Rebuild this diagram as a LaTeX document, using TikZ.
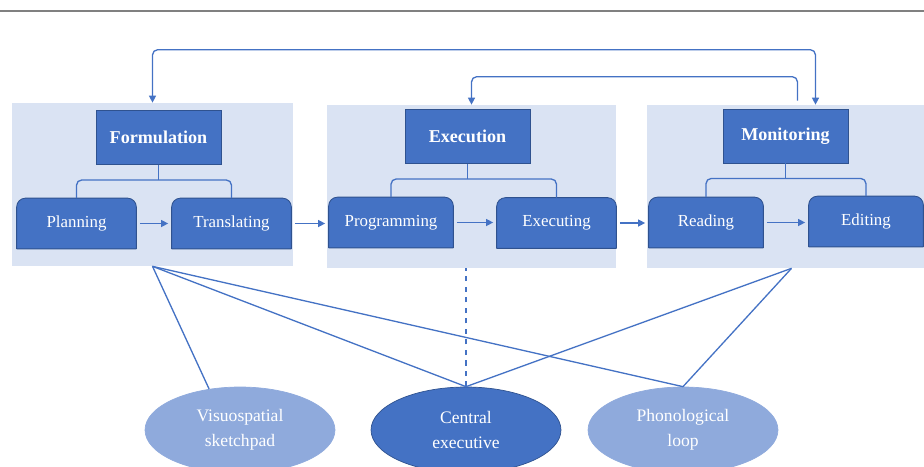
\documentclass[tikz,border=0pt]{standalone}
\usepackage{fontspec}
\setmainfont{Liberation Serif}
\usetikzlibrary{calc,shapes,positioning,arrows.meta}
\definecolor{boxblue}{RGB}{68,114,196}
\definecolor{boxedge}{RGB}{47,82,143}
\definecolor{panelbg}{RGB}{218,227,243}
\definecolor{ovalblue}{RGB}{143,170,220}
\definecolor{rulegray}{RGB}{128,128,128}
\pgfdeclarelayer{panels}
\pgfdeclarelayer{boxes}
\pgfsetlayers{panels,boxes,main}
\tikzset{
    panel/.style={rectangle, fill=panelbg, inner sep=0pt, minimum height=3.26cm},
    head/.style={rectangle, fill=boxblue, draw=boxedge, line width=0.5pt, text=white,
        minimum width=2.5cm, minimum height=1.08cm, font=\bfseries\fontsize{10.3}{12}\selectfont},
    sub/.style={rectangle, inner sep=0pt, minimum width=2.38cm, minimum height=1cm,
        text=white, font=\fontsize{9.6}{12}\selectfont},
    subshape/.style={fill=boxblue, draw=boxedge, line width=0.5pt, rounded corners=5pt},
    oval/.style={ellipse, fill=ovalblue, draw=ovalblue, minimum width=3.8cm, minimum height=1.72cm,
        align=center, text=white, font=\fontsize{10}{14}\selectfont},
    link/.style={draw=boxblue, line width=0.75pt},
    flow/.style={link, -{Triangle[length=4pt,width=4pt]}, shorten <=2pt, shorten >=2pt},
    bracket/.style={link, rounded corners=3pt},
}

\begin{document}
\begin{tikzpicture}[x=0.02cm, y=-0.02cm]
    \clip (0,0) rectangle (924,467);
    \draw[rulegray, line width=0.8pt] (0,11) -- (924,11);

    % three stages
    \begin{pgfonlayer}{panels}
        \node[panel, minimum width=5.62cm] (p1) at (152.5,184.5) {};
        \node[panel, minimum width=5.78cm] (p2) at (471.5,186.5) {};
        \node[panel, minimum width=5.54cm] (p3) at (785.5,186.5) {};
    \end{pgfonlayer}

    \node[head] (form) at (158.5,137.5) {Formulation};
    \node[head] (execu) at (467.5,136.5) {Execution};
    \node[head] (mon) at (785.5,136) {Monitoring};

    \node[sub] (plan) at (76.5,223.5) {Planning};
    \node[sub] (trans) at (231.5,223.5) {Translating};
    \node[sub, minimum width=2.48cm] (prog) at (391,222.5) {Programming};
    \node[sub] (exec) at (556.5,223) {Executing};
    \node[sub, minimum width=2.28cm] (read) at (706,222.5) {Reading};
    \node[sub, minimum width=2.28cm] (edit) at (866,221.5) {Editing};

    \begin{pgfonlayer}{boxes}
        \foreach \n in {plan,trans,prog,exec,read,edit}
            \filldraw[subshape] (\n.south east) -- (\n.north east) -- (\n.north west) -- (\n.south west)
                (\n.south west) -- (\n.south east);
    \end{pgfonlayer}

    \foreach \h/\a/\b in {form/plan/trans, execu/prog/exec, mon/read/edit} {
        \draw[bracket] (\h.south) -- ++(0,15);
        \draw[bracket] (\a.north) |- ($(\h.south)+(0,15)$) -| (\b.north);
    }

    \draw[flow] (plan.east) -- (trans.west);
    \draw[flow] (trans.east) -- (trans.east -| prog.west);
    \draw[flow] (prog.east) -- (prog.east -| exec.west);
    \draw[flow] (exec.east) -- (exec.east -| read.west);
    \draw[flow] (read.east) -- (read.east -| edit.west);

    % feedback
    \draw[link, rounded corners=3pt, {Triangle[length=4pt,width=4pt]}-{Triangle[length=4pt,width=4pt]}]
        (p1.north) -- ++(0,-53) -| ($(p3.north)+(30,0)$);
    \draw[link, rounded corners=3pt, -{Triangle[length=4pt,width=4pt]}]
        ($(p3.north)+(12,-4)$) -- ++(0,-24) -| (p2.north);

    % working memory
    \node[oval] (vis) at (240,430) {Visuospatial\\sketchpad};
    \node[oval, fill=boxblue, draw=boxedge] (ce) at (466,430) {Central\\executive};
    \node[oval] (pl) at (683,430) {Phonological\\loop};

    \draw[link, dashed] (ce.north) -- (ce.north |- p2.south);
    \draw[link] (p1.south) -- (vis.127);
    \draw[link] (p1.south) -- (ce.north);
    \draw[link] (p1.south) -- (pl.north);
    \draw[link] ($(p3.south)+(6,0)$) -- (ce.north);
    \draw[link] ($(p3.south)+(6,0)$) -- (pl.north);
\end{tikzpicture}
\end{document}
